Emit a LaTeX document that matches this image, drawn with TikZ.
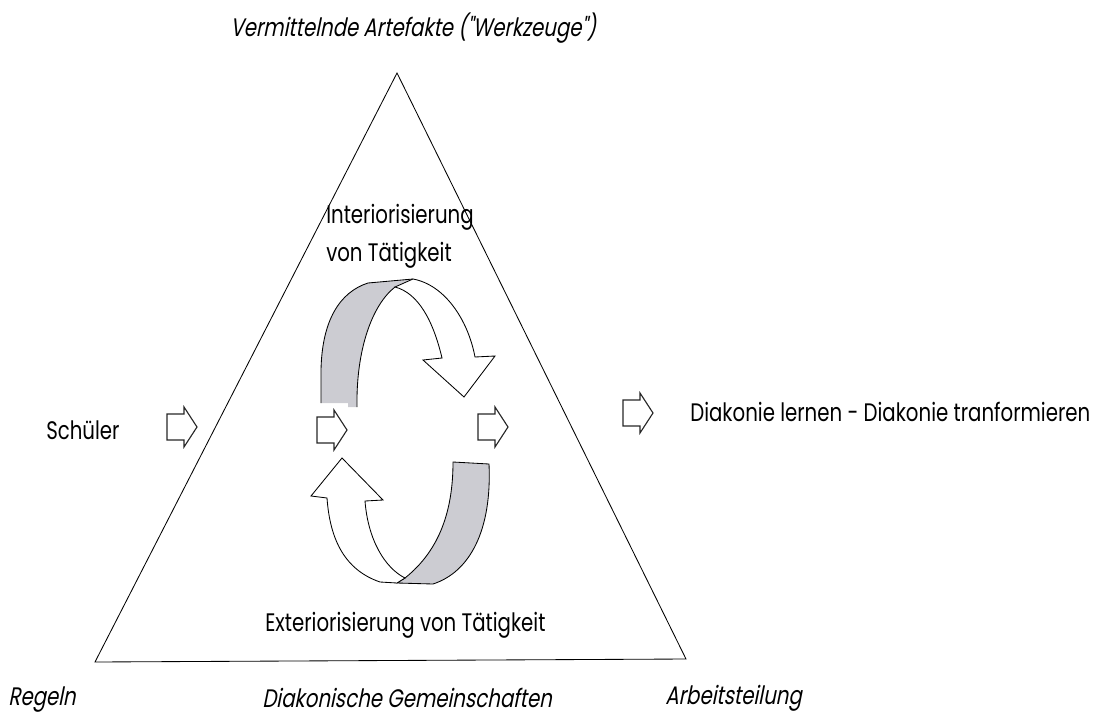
\documentclass[tikz,border=0pt]{standalone}
\usepackage{fontspec}
\setmainfont{Poppins}[FakeStretch=0.78]
\newfontfamily\slantfont{Poppins}[FakeStretch=0.78,FakeSlant=0.2]
\begin{document}
\begin{tikzpicture}[x=0.025cm,y=-0.025cm,
  label/.style={inner sep=0pt,anchor=west,font=\fontsize{18}{27}\selectfont},
  corner/.style={inner sep=0pt,anchor=west,font=\slantfont\fontsize{18}{27}\selectfont},
  blockarr/.style={draw=black!85,line width=0.8pt,line join=miter},
  ribbon/.style={draw=black,line width=0.6pt},
  backside/.style={fill={rgb,255:red,204;green,204;blue,210}}]
\useasboundingbox (0,0) rectangle (1115,716);
  % Draw triangle
  \coordinate (apex) at (397,73);
  \coordinate (right) at (686,659);
  \coordinate (left) at (95,662);
  \draw[line width=0.6pt] (apex) -- (right) -- (left) -- cycle;
  % Draw upper ribbon (interiorisation)
  \fill[backside] (321,403) -- (321,370)
    .. controls (322,320) and (340,292) .. (368,283) -- (413,279) -- (395,287)
    .. controls (372,305) and (356,350) .. (357,407) -- (348,407) -- (348,403) -- cycle;
  \draw[ribbon] (321,403) -- (321,370)
    .. controls (322,320) and (340,292) .. (368,283) -- (413,279);
  \draw[ribbon] (395,287) .. controls (372,305) and (356,350) .. (357,407);
  \draw[ribbon,fill=white] (413,279)
    .. controls (445,285) and (468,320) .. (475,357) -- (495,356) -- (464,397)
    -- (423,360) -- (442,358) .. controls (433,320) and (418,293) .. (395,287) -- cycle;
  % Draw lower ribbon (exteriorisation)
  \draw[ribbon,backside] (397,583) -- (405,578)
    .. controls (440,550) and (453,510) .. (453,462) -- (489,464)
    .. controls (492,530) and (470,572) .. (433,584) -- cycle;
  \draw[ribbon,fill=white] (342,458) -- (383,500) -- (365,501)
    .. controls (368,540) and (385,568) .. (405,578) -- (397,583) -- (380,582)
    .. controls (345,570) and (330,540) .. (327,498) -- (311,496) -- cycle;
  % Draw block arrows
  \foreach \bx/\by in {167/407,317/410,478/407,623/393}
    \draw[blockarr] (\bx,\by+7) -- (\bx+17,\by+7) -- (\bx+17,\by) -- (\bx+30,\by+20)
      -- (\bx+17,\by+40) -- (\bx+17,\by+33) -- (\bx,\by+33) -- cycle;
  % Draw labels
  \node[corner] (artefakte) at (230,28) {Vermittelnde Artefakte ("Werkzeuge")};
  \node[label,align=left] (interior) at (326,236) {Interiorisierung\\von Tätigkeit};
  \node[label] (schueler) at (46,430) {Schüler};
  \node[label] (ziel) at (690,412) {Diakonie lernen - Diakonie tranformieren};
  \node[label] (exterior) at (265,625) {Exteriorisierung von Tätigkeit};
  % Draw corner labels
  \node[corner] (regeln) at (8,700) {Regeln};
  \node[corner] (gemeinschaft) at (262,698) {Diakonische Gemeinschaften};
  \node[corner] (arbeit) at (665,698) {Arbeitsteilung};
\end{tikzpicture}
\end{document}
